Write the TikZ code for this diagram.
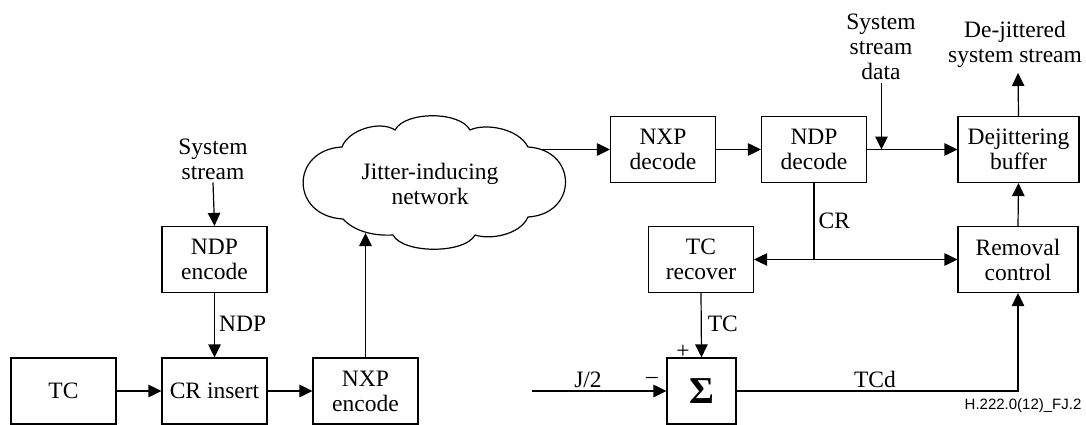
\documentclass[tikz,border=0pt]{standalone}
\usepackage{fontspec}
\setmainfont{Liberation Serif}
\newfontfamily\labelfont{Liberation Sans}
\usetikzlibrary{arrows.meta}
\begin{document}
\begin{tikzpicture}[x=1pt,y=-1pt,
  line width=1.2pt,
  every node/.style={font=\fontsize{23.5}{25}\selectfont, align=center, inner sep=0pt},
  blk/.style={draw, line width=1.2pt, minimum width=105pt, minimum height=66pt},
  wblk/.style={blk, minimum width=121pt},
  arr/.style={-{Triangle[length=13pt,width=12.5pt]}}]
\useasboundingbox (0,0) rectangle (1086,425);
% boxes
\node[blk] (tc)   at (63.5,391) {TC};
\node[blk] (cri)  at (214.5,391) {CR insert};
\node[blk] (nxpe) at (365.5,391) {NXP\\encode};
\node[blk] (ndpe) at (214.5,259.5) {NDP\\encode};
\node[blk] (nxpd) at (663,149.5) {NXP\\decode};
\node[blk] (ndpd) at (814,149.5) {NDP\\decode};
\node[wblk] (djb) at (1018.5,149.5) {Dejittering\\buffer};
\node[blk] (tcr)  at (701,259.5) {TC\\recover};
\node[wblk, minimum width=120pt] (rc) at (1018,259.5) {Removal\\control};
\node[blk, minimum width=69pt] (sig) at (701.5,391) {\fontsize{38}{38}\selectfont\bfseries Σ};
% cloud
\draw (342,147) .. controls (348,130) and (380,120) .. (395,130)
  .. controls (405,111) and (460,111) .. (470,130)
  .. controls (485,123) and (518,128) .. (528,147)
  .. controls (578,150) and (578,214) .. (528,217)
  .. controls (520,235) and (490,240) .. (475,235)
  .. controls (465,254) and (403,254) .. (393,235)
  .. controls (375,236) and (355,232) .. (343,219)
  .. controls (290,216) and (290,150) .. (342,147) -- cycle;
\node (cloud) at (430,183.5) {Jitter-inducing\\network};
\coordinate (cloudbot) at (365.5,233);
\coordinate (cloudout) at (540,149.5);
% text labels
\node (sys) at (213,159.5) {System\\stream};
\node (ssd) at (881,47) {System\\stream\\data};
\node (dj) at (1015,44) {De-jittered\\system stream};
\coordinate (djout) at (1018,73);
\coordinate (ssdin) at (881.5,149.5);
\coordinate (jct) at (814,259.5);
\coordinate (jin) at (532,391);
\coordinate (tcdc) at (1018,391);
% connectors
\draw[arr] (tc.east) -- (cri.west);
\draw[arr] (cri.east) -- (nxpe.west);
\draw[arr] (sys.south) ++(0,2) -- (ndpe.north);
\draw[arr] (ndpe.south) -- node[right=4pt, pos=0.48]{NDP} (cri.north);
\draw[arr] (nxpe.north) -- (cloudbot);
\draw[arr] (cloudout) -- (nxpd.west);
\draw[arr] (nxpd.east) -- (ndpd.west);
\draw[arr] (ndpd.east) -- (djb.west);
\draw[arr] (ssd.south) ++(0.5,3) -- (ssdin);
\draw[arr] (djb.north) -- (djout);
\draw (ndpd.south) -- node[right=4pt, pos=0.5]{CR} (jct);
\draw[arr] (jct) -- (tcr.east);
\draw[arr] (jct) -- (rc.west);
\draw[arr] (rc.north) -- (djb.south);
\draw[arr] (tcr.south) -- node[right=6pt, pos=0.48]{TC} (sig.north);
\draw[arr] (jin) -- (sig.west);
\draw[arr] (sig.east) -- (tcdc) -- (rc.south);
\node at (588,380) {J/2};
\node at (875,379) {TCd};
\node at (683,352) {+};
\node at (652,380) {–};
\node[font=\labelfont\fontsize{15}{15}\selectfont, anchor=east] at (1082,406) {H.222.0(12)\_FJ.2};
\end{tikzpicture}
\end{document}
